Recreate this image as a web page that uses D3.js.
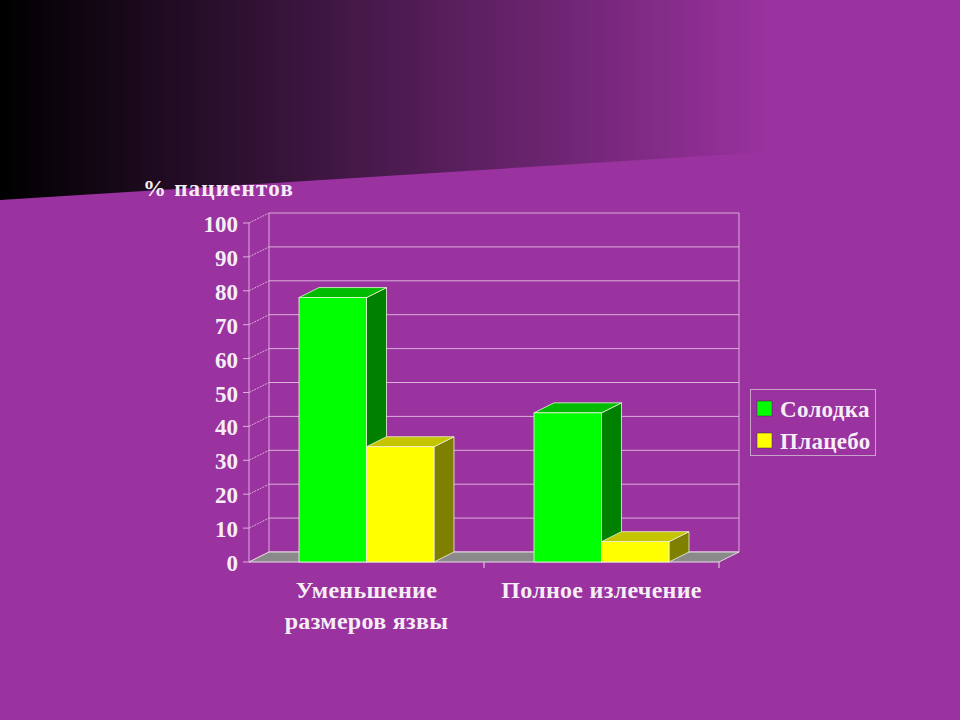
<!DOCTYPE html>
<html>
<head>
<meta charset="utf-8">
<script src="https://cdn.jsdelivr.net/npm/d3@7"></script>
<style>
html,body{margin:0;padding:0;background:#9a329f;}
svg{display:block;}
text{font-family:"Liberation Serif","Times New Roman",serif;font-weight:bold;fill:#f6eef6;}
</style>
</head>
<body>
<svg id="chart" width="960" height="720"></svg>
<script>
const categories = [["Уменьшение", "размеров язвы"], ["Полное излечение"]];
const seriesNames = ["Солодка", "Плацебо"];
const solodka = [78, 44];
const placebo = [34, 6];
const yTicks = [0, 10, 20, 30, 40, 50, 60, 70, 80, 90, 100];
const yTitle = "% пациентов";

const svg = d3.select("#chart");
const W = 960, H = 720;
const bg = "#9a329f";

// background
const defs = svg.append("defs");
const grad = defs.append("linearGradient").attr("id", "topgrad")
  .attr("x1", "0%").attr("x2", "100%").attr("y1", "0%").attr("y2", "0%");
grad.append("stop").attr("offset", "0%").attr("stop-color", "#000000");
grad.append("stop").attr("offset", "40%").attr("stop-color", "#4a1a4e");
grad.append("stop").attr("offset", "80%").attr("stop-color", bg);
grad.append("stop").attr("offset", "100%").attr("stop-color", bg);
svg.append("rect").attr("width", W).attr("height", H).attr("fill", bg);
svg.append("polygon").attr("points", "0,0 960,0 960,140 0,200").attr("fill", "url(#topgrad)");

// geometry
const left = 249, right = 719, y0 = 562, yTop = 223;
const dx = 20, dy = -10;
const x = d3.scaleBand().domain(d3.range(categories.length)).range([left, right]);
const xs = d3.scaleBand().domain(d3.range(seriesNames.length)).range([0, 135]);
const y = d3.scaleLinear().domain([0, 100]).range([y0, yTop]);
const gridColor = "#dcaedc";

// back wall grid
const g = svg.append("g");
g.selectAll(".grid").data(yTicks).enter().append("line")
  .attr("x1", left + dx).attr("x2", right + dx)
  .attr("y1", d => y(d) + dy).attr("y2", d => y(d) + dy)
  .attr("stroke", gridColor).attr("stroke-width", 1);
// side wall diagonals
g.selectAll(".diag").data(yTicks).enter().append("line")
  .attr("x1", left).attr("x2", left + dx)
  .attr("y1", d => y(d)).attr("y2", d => y(d) + dy)
  .attr("stroke", gridColor).attr("stroke-width", 1).attr("stroke-dasharray", "2,1");
// back wall verticals
[left + dx, right + dx].forEach(xx => {
  g.append("line").attr("x1", xx).attr("x2", xx)
    .attr("y1", y(100) + dy).attr("y2", y(0) + dy)
    .attr("stroke", gridColor).attr("stroke-width", 1);
});
// front axis
g.append("line").attr("x1", left).attr("x2", left).attr("y1", y(100)).attr("y2", y(0))
  .attr("stroke", gridColor).attr("stroke-width", 1);
g.selectAll(".tick").data(yTicks).enter().append("line")
  .attr("x1", left - 6).attr("x2", left)
  .attr("y1", d => y(d)).attr("y2", d => y(d))
  .attr("stroke", gridColor).attr("stroke-width", 1);
g.selectAll(".tl").data(yTicks).enter().append("text")
  .attr("x", 238).attr("y", d => y(d) + 9)
  .attr("text-anchor", "end").attr("font-size", 23)
  .text(d => d);

// floor
svg.append("polygon")
  .attr("points", [[left, y0], [right, y0], [right + dx, y0 + dy], [left + dx, y0 + dy]].map(p => p.join(",")).join(" "))
  .attr("fill", "#8a8a8a").attr("stroke", "#e6dce6").attr("stroke-width", 1);
// category tick
x.domain().slice(1).forEach(i => {
  svg.append("line").attr("x1", x(i)).attr("x2", x(i)).attr("y1", y0).attr("y2", y0 + 6)
    .attr("stroke", "#e6dce6");
});
svg.append("line").attr("x1", right).attr("x2", right).attr("y1", y0).attr("y2", y0 + 6).attr("stroke", "#e6dce6");

// bars
const colors = [
  { front: "#00ff00", side: "#008000", top: "#00bb00" },
  { front: "#ffff00", side: "#808000", top: "#c4c400" }
];
const series = [solodka, placebo];
const edge = "#eef4dd";
categories.forEach((c, i) => {
  const gx = x(i) + (x.bandwidth() - xs.range()[1]) / 2;
  series.forEach((vals, s) => {
    const x0 = gx + xs(s), x1 = x0 + xs.bandwidth();
    const yt = y(vals[i]);
    const bg2 = svg.append("g");
    bg2.append("polygon")
      .attr("points", [[x1, yt], [x1 + dx, yt + dy], [x1 + dx, y0 + dy], [x1, y0]].map(p => p.join(",")).join(" "))
      .attr("fill", colors[s].side).attr("stroke", edge).attr("stroke-width", 0.8);
    bg2.append("polygon")
      .attr("points", [[x0, yt], [x0 + dx, yt + dy], [x1 + dx, yt + dy], [x1, yt]].map(p => p.join(",")).join(" "))
      .attr("fill", colors[s].top).attr("stroke", edge).attr("stroke-width", 0.8);
    bg2.append("rect").attr("x", x0).attr("y", yt).attr("width", x1 - x0).attr("height", y0 - yt)
      .attr("fill", colors[s].front).attr("stroke", edge).attr("stroke-width", 0.8);
  });
});

// category labels
categories.forEach((lines, i) => {
  const cx = x(i) + x.bandwidth() / 2;
  lines.forEach((t, k) => {
    svg.append("text").attr("x", cx).attr("y", 598 + k * 31)
      .attr("text-anchor", "middle").attr("font-size", 24).attr("letter-spacing", 0.3).text(t);
  });
});

// y title
svg.append("text").attr("x", 143).attr("y", 196).attr("font-size", 23).attr("letter-spacing", 1.2).text(yTitle);

// legend
const lg = svg.append("g");
lg.append("rect").attr("x", 750.5).attr("y", 389.5).attr("width", 125).attr("height", 66)
  .attr("fill", "none").attr("stroke", "#c9a2c9").attr("stroke-width", 1);
seriesNames.forEach((n, s) => {
  lg.append("rect").attr("x", 757).attr("y", 401 + s * 32).attr("width", 15).attr("height", 15)
    .attr("fill", colors[s].front).attr("stroke", "#333").attr("stroke-width", 0.5);
  lg.append("text").attr("x", 780).attr("y", 417 + s * 32).attr("font-size", 23).attr("letter-spacing", 0.3).text(n);
});
</script>
</body>
</html>
